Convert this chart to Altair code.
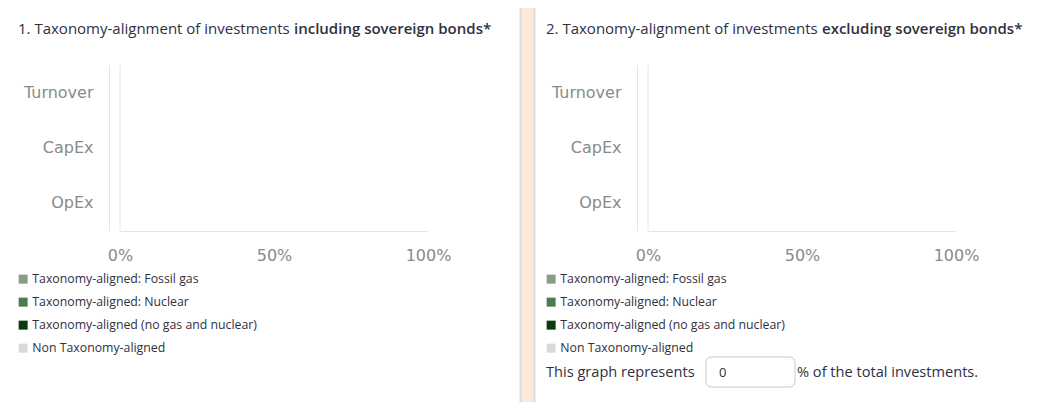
import altair as alt
import pandas as pd

# ---------------- data ----------------
metrics = ["Turnover", "CapEx", "OpEx"]
categories = [
    "Taxonomy-aligned: Fossil gas",
    "Taxonomy-aligned: Nuclear",
    "Taxonomy-aligned (no gas and nuclear)",
    "Non Taxonomy-aligned",
]
colors = ["#869e87", "#4f7a50", "#0d3b0e", "#d9d9d9"]

# share (0..1) per metric (rows) and category (columns); every bar is empty in the reference
values_incl = [
    [0, 0, 0, 0],
    [0, 0, 0, 0],
    [0, 0, 0, 0],
]
values_excl = [
    [0, 0, 0, 0],
    [0, 0, 0, 0],
    [0, 0, 0, 0],
]
x_ticks = [0, 0.5, 1]

title_plain = ["1. Taxonomy-alignment of investments", "2. Taxonomy-alignment of investments"]
title_bold = ["including sovereign bonds*", "excluding sovereign bonds*"]
share_before = "This graph represents"
share_value = "0"
share_after = "% of the total investments."

# ---------------- styling ----------------
PEACH = "#fbe8d5"
BORDER = "#dcdcdc"
LINE = "#e4e4e4"
AXIS_GRAY = "#8a8a8a"
TEXT = "#30303f"
FONT = "Open Sans"
DX = 528  # horizontal shift of the second panel


def one():
    return alt.Data(values=[{}])


def text_layer(txt, x, y, size, weight="normal", baseline="alphabetic", color=TEXT):
    return alt.Chart(one()).mark_text(
        text=txt, align="left", baseline=baseline, font=FONT,
        fontSize=size, fontWeight=weight, color=color
    ).encode(x=alt.value(x), y=alt.value(y))


def panel_box(x0, x1):
    return alt.Chart(one()).mark_rect(
        fill="white", stroke=BORDER, strokeWidth=2
    ).encode(x=alt.value(x0), x2=alt.value(x1), y=alt.value(-3), y2=alt.value(430))


def panel(values, dx):
    rows = []
    for i, m in enumerate(metrics):
        for j, c in enumerate(categories):
            rows.append({"metric": m, "category": c, "value": values[i][j]})
    df = pd.DataFrame(rows)

    xs = alt.Scale(domain=[0, 1], range=[112 + dx, 420 + dx], nice=False)
    ys = alt.Scale(domain=metrics, range=[57, 223])

    bars = alt.Chart(df).mark_bar().encode(
        x=alt.X(
            "value:Q", stack="zero", scale=xs,
            axis=alt.Axis(
                orient="bottom", offset=-171, values=x_ticks, format="%",
                labelFlush=False, labelOverlap=False, ticks=False, tickSize=0,
                grid=False, domainColor=LINE, domainWidth=1,
                labelFont="DejaVu Sans", labelFontSize=16, labelColor=AXIS_GRAY,
                labelPadding=16, title=None, zindex=1,
            ),
        ),
        y=alt.Y(
            "metric:N", scale=ys, sort=metrics,
            axis=alt.Axis(
                orient="left", offset=-(101 + dx), ticks=False, tickSize=0,
                grid=False, domainColor=LINE, domainWidth=1,
                labelFont="DejaVu Sans", labelFontSize=16, labelColor=AXIS_GRAY,
                labelPadding=16, title=None, zindex=1,
            ),
        ),
        color=alt.Color(
            "category:N",
            scale=alt.Scale(domain=categories, range=colors),
            legend=alt.Legend(
                orient="none", legendX=9 + dx, legendY=265, title=None,
                symbolType="square", symbolSize=81, symbolStrokeWidth=0,
                labelFont=FONT, labelFontSize=12.3, labelColor=TEXT,
                labelOffset=3, rowPadding=10, padding=0, labelLimit=400, zindex=1,
            ),
        ),
    )

    zero_rule = alt.Chart(one()).mark_rule(color=LINE, strokeWidth=1).encode(
        x=alt.datum(0, scale=xs), y=alt.value(57), y2=alt.value(223)
    )
    return alt.layer(bars, zero_rule)


layers = [
    panel_box(-1, 512.5),
    panel_box(526.5, 1041),
    panel(values_incl, 0),
    panel(values_excl, DX),
    text_layer(title_plain[0], 10, 26, 15),
    text_layer(title_bold[0], 286, 26, 15, weight=600),
    text_layer(title_plain[1], 10 + DX, 26, 15),
    text_layer(title_bold[1], 286 + DX, 26, 15, weight=600),
    # share line (second panel only)
    text_layer(share_before, 538, 365, 14.6, baseline="middle"),
    alt.Chart(one()).mark_rect(
        fill="white", stroke="#c9c9c9", strokeWidth=1, cornerRadius=5
    ).encode(x=alt.value(698), x2=alt.value(787), y=alt.value(349), y2=alt.value(379)),
    text_layer(share_value, 711, 365, 13, baseline="middle"),
    text_layer(share_after, 789, 365, 14.6, baseline="middle"),
]

chart = alt.layer(*layers).resolve_scale(
    x="independent", y="independent", color="independent"
).properties(
    width=1036, height=394, padding=0,
    autosize=alt.AutoSizeParams(type="none"),
    background=PEACH,
).configure_view(stroke="transparent")

chart.save("out.html", embed_options={"renderer": "svg", "actions": False})
